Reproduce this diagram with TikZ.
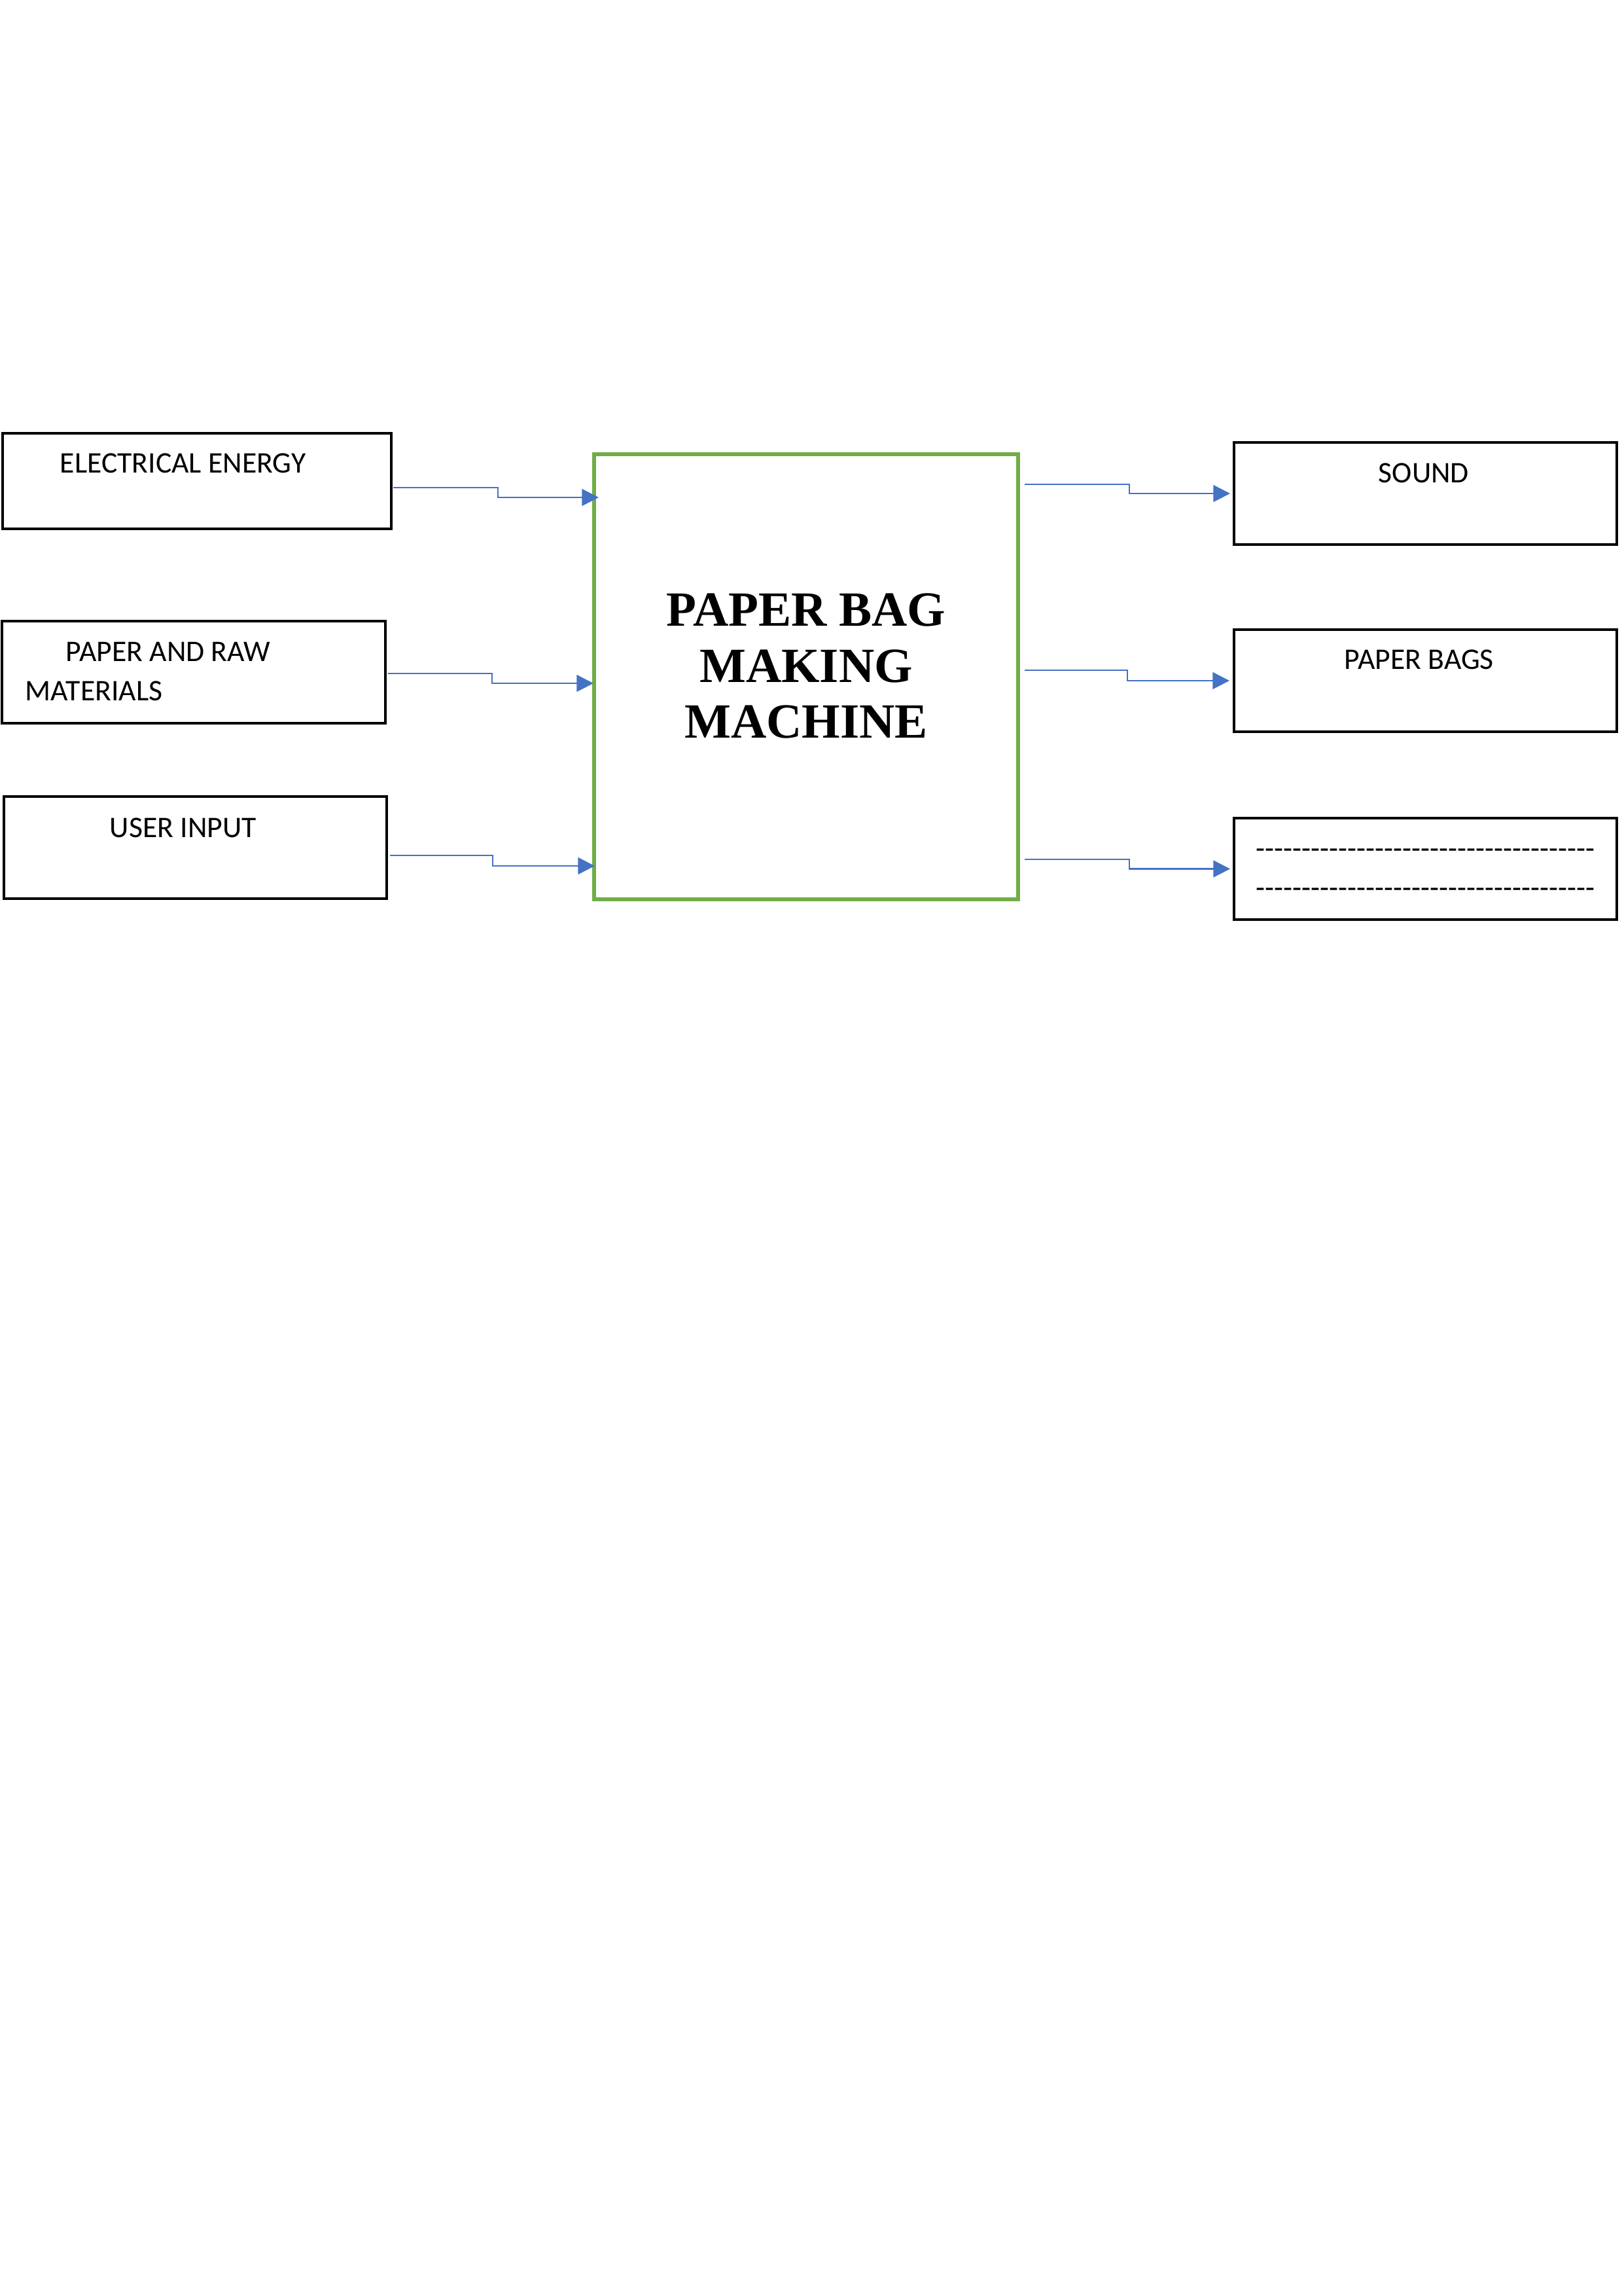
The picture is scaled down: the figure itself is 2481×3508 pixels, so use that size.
\documentclass[tikz,border=0pt]{standalone}
\usepackage{fontspec}
\usetikzlibrary{arrows.meta}
\newfontfamily\calibrifont{Carlito}
\newfontfamily\titlefont{Liberation Serif}
\definecolor{flowblue}{HTML}{4472C4}
\definecolor{boxgreen}{HTML}{70AD47}
\newcommand\pxu{0.08464mm}
\tikzset{
  blackbox/.style={draw=black, line width=1.1pt, inner sep=0pt, outer sep=0pt, fill=white},
  greenbox/.style={draw=boxgreen, line width=1.4pt, inner sep=0pt, outer sep=0pt},
  lbl/.style={font=\calibrifont\fontsize{11}{14.4}\selectfont, inner sep=0pt, anchor=base west, align=left},
  flow/.style={draw=flowblue, line width=0.65pt, -{Triangle[length=6.2pt,width=6.2pt]}},
}
\begin{document}
\begin{tikzpicture}[x=\pxu, y=-\pxu]
\fill[white] (0,0) rectangle (2481,3508);
\useasboundingbox (0,0) rectangle (2481,3508);

% input boxes
\node[blackbox, minimum width=594*\pxu, minimum height=146*\pxu] (elec) at (301,735) {};
\node[blackbox, minimum width=586*\pxu, minimum height=156*\pxu] (paper) at (296,1027) {};
\node[blackbox, minimum width=585*\pxu, minimum height=156*\pxu] (user) at (298.5,1295) {};

% machine
\node[greenbox, minimum width=648*\pxu, minimum height=680*\pxu] (machine) at (1232,1034) {};
\node[font=\titlefont\bfseries\fontsize{18.1}{20.5}\selectfont, align=center, inner sep=0pt] (machinetext) at (1232,1017.5) {PAPER BAG\\MAKING\\MACHINE};

% output boxes
\node[blackbox, minimum width=585*\pxu, minimum height=156*\pxu] (sound) at (2178.5,754) {};
\node[blackbox, minimum width=585*\pxu, minimum height=156*\pxu] (bags) at (2178.5,1040) {};
\node[blackbox, minimum width=585*\pxu, minimum height=155*\pxu] (other) at (2178.5,1327.5) {};

% labels
\node[lbl] (eleclbl) at (91,722) {ELECTRICAL ENERGY};
\node[lbl] (paperlbl) at (38,1070) {\hspace*{5.25mm}PAPER AND RAW\\MATERIALS};
\node[lbl] (userlbl) at (167,1279) {USER INPUT};
\node[lbl] (soundlbl) at (2106,737) {SOUND};
\node[lbl] (bagslbl) at (2054,1022) {PAPER BAGS};
\node[lbl] (otherlbl) at (1919,1371) {\foreach \i in {1,...,37}{-}\\\foreach \i in {1,...,37}{-}};

% input connectors
\coordinate (in1) at ([shift={(7,-274)}]machine.west);
\coordinate (in2) at ([shift={(-1,10)}]machine.west);
\coordinate (in3) at ([shift={(1,289)}]machine.west);
\draw[flow] ([shift={(3,10)}]elec.east) -- ++(160,0) |- (in1);
\draw[flow] ([shift={(4,2)}]paper.east) -- ++(159,0) |- (in2);
\draw[flow] ([shift={(5,12)}]user.east) -- ++(157,0) |- (in3);

% output connectors
\draw[flow] ([shift={(10,-294)}]machine.east) -- ++(160,0) |- ([xshift=-6*\pxu]sound.west);
\draw[flow] ([shift={(10,-10)}]machine.east) -- ++(157,0) |- ([xshift=-7*\pxu]bags.west);
\draw[flow] ([shift={(10,279)}]machine.east) -- ++(160,0) |- ([xshift=-6*\pxu]other.west);
\end{tikzpicture}
\end{document}
